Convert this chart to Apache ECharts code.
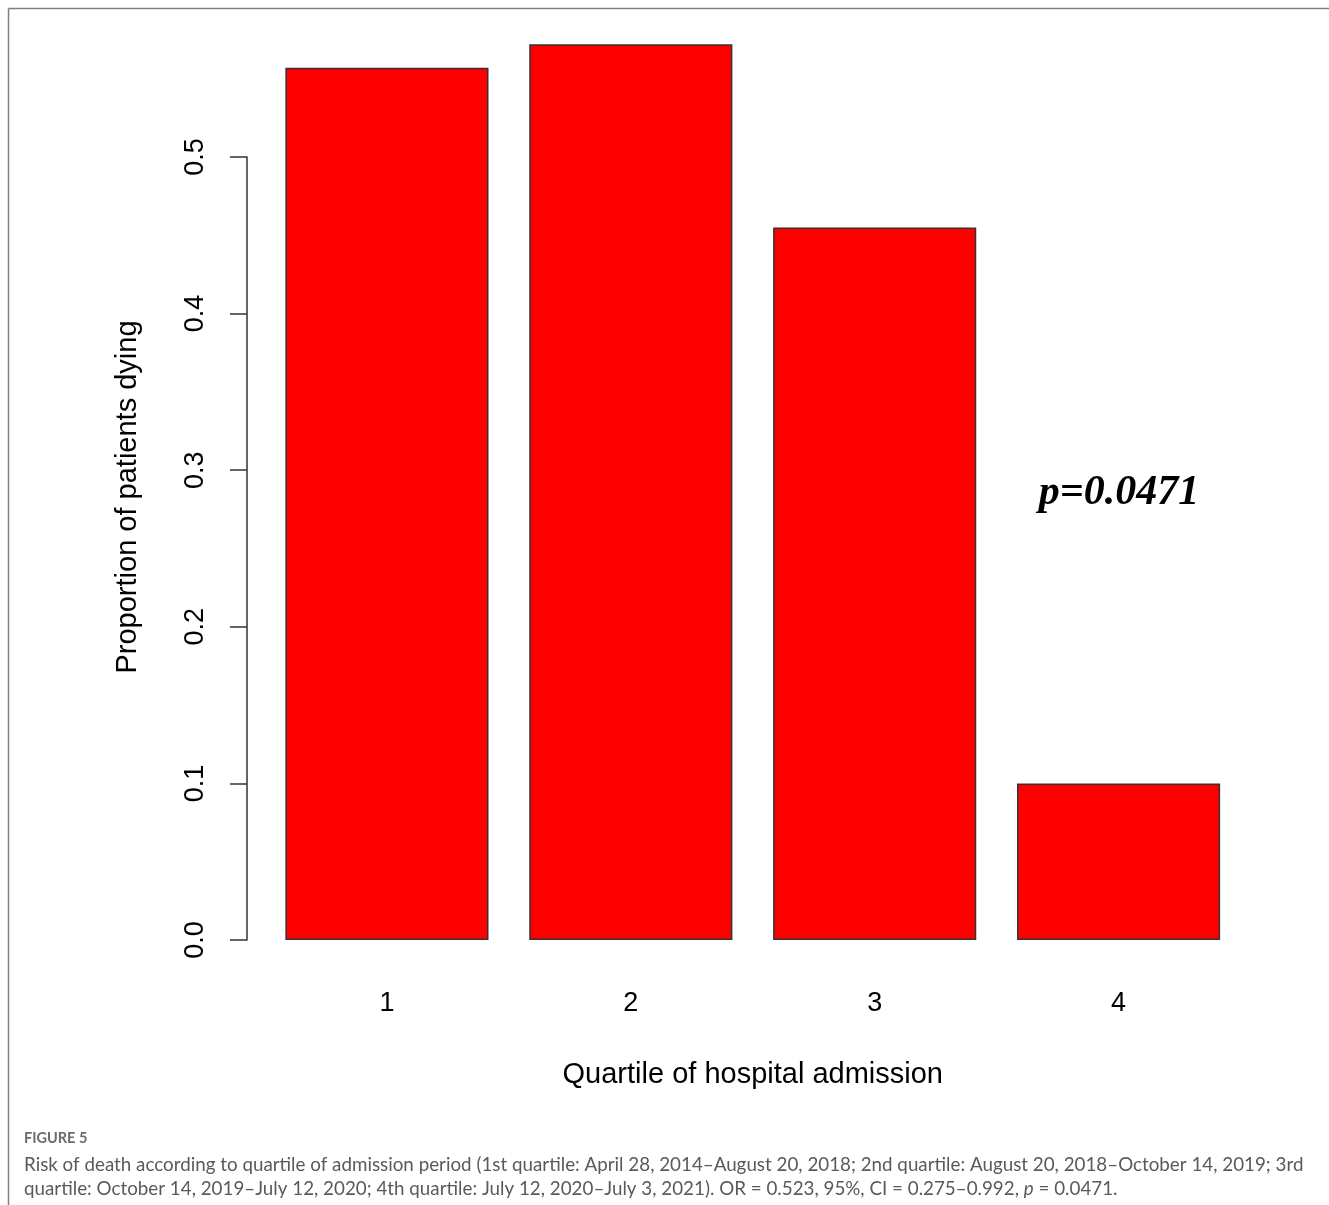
<!DOCTYPE html>
<html>
<head>
<meta charset="utf-8">
<script src="https://cdn.jsdelivr.net/npm/echarts@6/dist/echarts.min.js"></script>
<style>
html,body{margin:0;padding:0;background:#fff;}
#chart{width:1329px;height:1205px;}
</style>
</head>
<body>
<div id="chart"></div>
<script>
var categories = ['1', '2', '3', '4'];
var proportions = [0.557, 0.572, 0.455, 0.100];
var yTicks = [0, 0.1, 0.2, 0.3, 0.4, 0.5];
var yTitle = 'Proportion of patients dying';
var xTitle = 'Quartile of hospital admission';
var annotation = 'p=0.0471';
var figLabel = 'FIGURE 5';
var captionLines = [
  'Risk of death according to quartile of admission period (1st quartile: April 28, 2014\u2013August 20, 2018; 2nd quartile: August 20, 2018\u2013October 14, 2019; 3rd',
  'quartile: October 14, 2019\u2013July 12, 2020; 4th quartile: July 12, 2020\u2013July 3, 2021). OR = 0.523, 95%, CI = 0.275\u20130.992, '
];

var chart = echarts.init(document.getElementById('chart'), null, {renderer: 'canvas'});
var sansR = 'Liberation Sans, Arial, sans-serif';
var capFont = 'Lato, Open Sans, sans-serif';

var option = {
  backgroundColor: '#ffffff',
  animation: false,
  grid: {left: 265, right: 88.5, top: 157, bottom: 265, containLabel: false},
  xAxis: {
    type: 'category',
    data: categories,
    axisLine: {show: false},
    axisTick: {show: false},
    splitLine: {show: false},
    axisLabel: {fontFamily: sansR, fontSize: 27, color: '#000', margin: 50},
    name: xTitle,
    nameLocation: 'middle',
    nameGap: 120,
    nameTextStyle: {fontFamily: sansR, fontSize: 29, color: '#000'}
  },
  yAxis: {
    type: 'value',
    min: 0,
    max: 0.5,
    interval: 0.1,
    offset: 18,
    axisLine: {show: true, lineStyle: {color: '#333', width: 1.5}},
    axisTick: {show: true, length: 17, lineStyle: {color: '#333', width: 1.5}},
    splitLine: {show: false},
    axisLabel: {
      rotate: 90, fontFamily: sansR, fontSize: 27, color: '#000', margin: 38,
      formatter: function (v) { return v.toFixed(1); }
    }
  },
  series: [{
    type: 'bar',
    data: proportions,
    clip: false,
    barCategoryGap: '16.7%',
    itemStyle: {color: '#ff0000', borderColor: '#333', borderWidth: 1.5}
  }],
  graphic: [
    {type: 'line', shape: {x1: 8.5, y1: 8.5, x2: 1329, y2: 8.5}, style: {stroke: '#808080', lineWidth: 1.5}},
    {type: 'line', shape: {x1: 8.5, y1: 8.5, x2: 8.5, y2: 1205}, style: {stroke: '#808080', lineWidth: 1.5}},
    {type: 'text', x: 128, y: 497, rotation: Math.PI / 2,
     style: {text: yTitle, fontFamily: sansR, fontSize: 29, fill: '#000', align: 'center', verticalAlign: 'middle'}},
    {type: 'text', x: 1119, y: 493,
     style: {text: annotation, fontFamily: 'Liberation Serif, Times New Roman, serif', fontSize: 42, fontWeight: 'bold', fontStyle: 'italic', fill: '#000', align: 'center', verticalAlign: 'middle'}},
    {type: 'text', x: 24, y: 1138,
     style: {text: figLabel, fontFamily: capFont, fontSize: 14.5, fontWeight: 'bold', fill: '#6b6b6b', align: 'left', verticalAlign: 'middle'}},
    {type: 'text', x: 24, y: 1165,
     style: {text: captionLines[0], fontFamily: capFont, fontSize: 18.8, fill: '#5a5a5a', align: 'left', verticalAlign: 'middle'}},
    {type: 'text', x: 24, y: 1189,
     style: {rich: {n: {fontFamily: capFont, fontSize: 18.8, fill: '#5a5a5a'}, i: {fontFamily: capFont, fontSize: 18.8, fontStyle: 'italic', fill: '#5a5a5a'}},
       text: '{n|' + captionLines[1] + '}{i|p}{n| = 0.0471.}', align: 'left', verticalAlign: 'middle'}}
  ]
};
chart.setOption(option);
</script>
</body>
</html>
